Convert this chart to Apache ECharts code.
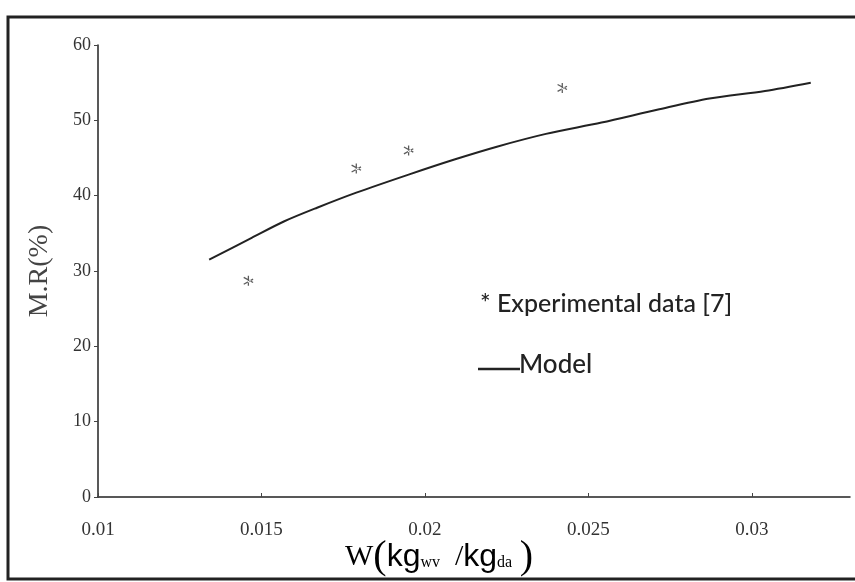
<!DOCTYPE html>
<html>
<head>
<meta charset="utf-8">
<script src="https://cdn.jsdelivr.net/npm/echarts@6/dist/echarts.min.js"></script>
<style>
html,body{margin:0;padding:0;background:#fff;}
#chart{width:855px;height:582px;}
</style>
</head>
<body>
<div id="chart"></div>
<script>
// Model curve (W, M.R %)
var modelW  = [0.0134, 0.0147, 0.0157, 0.0167, 0.0179, 0.0195, 0.0209, 0.0222, 0.0237, 0.0254, 0.0271, 0.0287, 0.0304, 0.0318];
var modelMR = [31.5,   34.4,   36.6,   38.4,   40.4,   42.8,   44.8,   46.5,   48.2,   49.7,   51.4,   52.9,   53.9,   55.0];
// Experimental data [7]
var expW  = [0.0146, 0.0179, 0.0195, 0.0242];
var expMR = [28.7,   43.6,   46.0,   54.3];
// Tick labels
var xTicks = [0.01, 0.015, 0.02, 0.025, 0.03];
var yTicks = [0, 10, 20, 30, 40, 50, 60];

var modelData = modelW.map(function(w, i){ return [w, modelMR[i]]; });
var expData = expW.map(function(w, i){ return [w, expMR[i]]; });

var asterisk = 'path://M4.4,0h1.2v10h-1.2z M0.3,2.1l0.6,-1.04l8.8,5.08l-0.6,1.04z M0.3,7.9l0.6,1.04l8.8,-5.08l-0.6,-1.04z';

var chart = echarts.init(document.getElementById('chart'), null, {renderer: 'canvas'});
chart.setOption({
  backgroundColor: '#ffffff',
  animation: false,
  grid: {left: 98, right: 5, top: 45, bottom: 85, containLabel: false},
  xAxis: {
    type: 'value', min: 0.01, max: 0.033, interval: 0.005,
    splitLine: {show: false},
    axisLine: {lineStyle: {color: '#222', width: 1.5}},
    axisTick: {show: true, inside: true, length: 4, customValues: xTicks, lineStyle: {color: '#444'}},
    axisLabel: {
      customValues: xTicks, margin: 24,
      fontFamily: 'Liberation Serif, serif', fontSize: 19, color: '#333'
    }
  },
  yAxis: {
    type: 'value', min: 0, max: 60, interval: 10,
    name: 'M.R(%)', nameLocation: 'middle', nameGap: 44,
    nameTextStyle: {fontFamily: 'Liberation Serif, serif', fontSize: 28, color: '#444'},
    splitLine: {show: false},
    axisLine: {lineStyle: {color: '#222', width: 1.5}},
    axisTick: {show: true, length: 4, customValues: yTicks, lineStyle: {color: '#444'}},
    axisLabel: {
      customValues: yTicks, margin: 7,
      fontFamily: 'Liberation Serif, serif', fontSize: 18, color: '#333'
    }
  },
  series: [
    {
      name: 'Model', type: 'line', data: modelData, smooth: 0.3,
      showSymbol: false, symbol: 'none',
      lineStyle: {color: '#222', width: 2}
    },
    {
      name: 'Experimental data [7]', type: 'scatter', data: expData,
      symbol: asterisk, symbolSize: 10,
      itemStyle: {color: '#333'}
    }
  ],
  graphic: [
    {type: 'rect', z: 100, silent: true,
     shape: {x: 8, y: 17, width: 870, height: 562},
     style: {fill: 'none', stroke: '#222', lineWidth: 3}},
    {type: 'text', left: 480, top: 291, z: 100,
     style: {text: '* Experimental data [7]', font: '500 25px Lato, "Open Sans", sans-serif', fill: '#222'}},
    {type: 'line', z: 100, shape: {x1: 478, y1: 369, x2: 520, y2: 369},
     style: {stroke: '#222', lineWidth: 2.5}},
    {type: 'text', left: 519, top: 352, z: 100,
     style: {text: 'Model', font: '500 26px Lato, "Open Sans", sans-serif', fill: '#222'}},
    {type: 'text', left: 345, top: 537, z: 100,
     style: {
       rich: {
         a: {fontFamily: 'Liberation Serif, serif', fontSize: 30, color: '#444'},
         p: {fontFamily: 'Liberation Serif, serif', fontSize: 40, color: '#444'},
         k: {fontFamily: 'Liberation Sans, sans-serif', fontSize: 32, color: '#444'},
         s: {fontFamily: 'Liberation Serif, serif', fontSize: 16, color: '#444', padding: [12, 0, 0, 0]}
       },
       text: '{a|W}{p|(}{k|kg}{s|wv}{a|  /}{k|kg}{s|da}{a| }{p|)}'
     }}
  ]
});
</script>
</body>
</html>
